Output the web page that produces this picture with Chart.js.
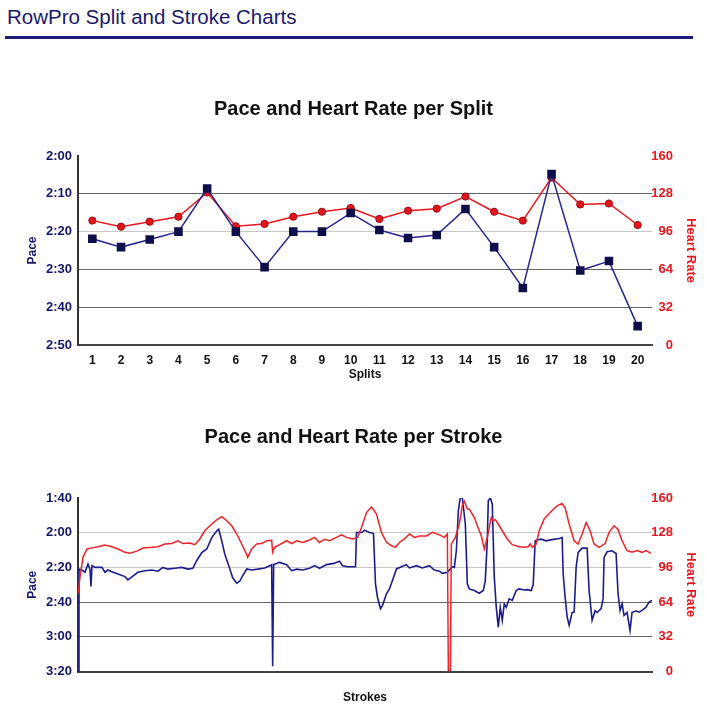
<!DOCTYPE html>
<html>
<head>
<meta charset="utf-8">
<title>RowPro Split and Stroke Charts</title>
<script src="https://cdn.jsdelivr.net/npm/chart.js@4/dist/chart.umd.min.js"></script>
<style>
    body { margin: 0; width: 707px; height: 720px; background: #fff; position: relative; overflow: hidden; }
    #hdr { position: absolute; left: 7px; top: 5px; font: 20.5px 'Liberation Sans', Arial, sans-serif; color: #19196c; }
    #rule { position: absolute; left: 5px; top: 36px; width: 688px; height: 3px; background: #1c1c7a; }
    .box { position: absolute; left: 0; width: 707px; }
</style>
</head>
<body>
<div id="hdr">RowPro Split and Stroke Charts</div>
<div id="rule"></div>
<div class="box" style="top:80px;height:310px"><canvas id="splitChart"></canvas></div>
<div class="box" style="top:415px;height:305px"><canvas id="strokeChart"></canvas></div>

<script>
// Split data (pace in seconds per 500m, heart rate in bpm)
const splits = ['1', '2', '3', '4', '5', '6', '7', '8', '9', '10', '11', '12', '13', '14', '15', '16', '17', '18', '19', '20'];
const splitPace = [141.9, 144.1, 142.1, 140, 128.6, 140, 149.4, 140, 140, 135.1, 139.6, 141.7, 140.9, 134, 144.1, 154.9, 124.8, 150.3, 147.8, 165];
const splitHr = [105.3, 100.2, 104.4, 108.6, 129.1, 100.5, 102.5, 108.6, 112.8, 116, 106.7, 113.7, 115.4, 125.7, 112.8, 105.3, 141.7, 119, 119.8, 101.6];

// Stroke data
const paceStrokes = [0, 1, 4, 7, 10, 12, 13, 14, 17, 24, 27, 30, 34, 40, 47, 50, 54, 60, 67, 74, 80, 85, 90, 97, 104, 110, 115, 119, 124, 129, 134, 139, 141, 144, 147, 151, 155, 159, 162, 165, 169, 174, 180, 187, 192, 194, 195, 196, 202, 209, 214, 219, 225, 232, 237, 242, 249, 256, 262, 265, 270, 278, 279, 284, 287, 292, 296, 298, 300, 303, 305, 309, 312, 315, 319, 324, 329, 332, 339, 345, 352, 357, 362, 365, 370, 375, 377, 379, 381, 383, 385, 388, 390, 392, 397, 402, 406, 408, 410, 411, 413, 415, 417, 419, 421, 423, 425, 427, 429, 432, 435, 439, 442, 447, 450, 454, 456, 458, 460, 464, 469, 475, 482, 485, 486, 488, 490, 492, 495, 497, 499, 501, 505, 510, 512, 514, 515, 518, 520, 524, 526, 527, 530, 535, 539, 541, 543, 545, 547, 550, 553, 555, 559, 562, 565, 569, 572, 575];
const paceSecs = [200, 141, 141.5, 142.8, 138, 141, 151, 139, 140, 140, 142.8, 141.5, 142.5, 143.8, 145.3, 147.2, 145.5, 142.8, 141.9, 141.5, 142.2, 140, 141, 140.5, 140, 141, 140.5, 136, 131.4, 129.4, 122.8, 118.9, 118, 124.7, 132.3, 139, 146, 149.1, 148, 144.7, 140.9, 141.5, 141, 140.3, 139, 138.5, 197, 138.4, 137.1, 138.4, 141.9, 141, 141.5, 140.5, 139, 140.5, 138.4, 137.7, 136.5, 139, 139.6, 139.6, 119.9, 119.9, 118.5, 119.9, 120.5, 149.5, 157.2, 163.8, 162, 155.2, 152.4, 147.6, 140.9, 139.6, 138.4, 140.3, 139, 140.3, 139, 141.5, 142.2, 143.4, 142.8, 139.6, 140, 130.4, 107.5, 99.4, 99.8, 115, 149.5, 152.4, 153.3, 154.9, 153.3, 147.6, 124.7, 101.7, 99.8, 103.6, 145.7, 162.9, 174.4, 163, 170.5, 161, 163, 158.1, 159, 153.3, 152.4, 153, 152.8, 153.3, 150, 124.7, 124.2, 123.7, 124.7, 124, 123.3, 122.8, 143.8, 157.2, 168.6, 173.4, 166, 165.8, 140, 131.4, 128.9, 128.9, 153.3, 164.8, 170.5, 165, 166, 163.8, 158, 134.2, 131, 130.4, 132, 155.2, 164.8, 161, 167.7, 166, 176.3, 166, 165, 165.8, 164.8, 162.9, 160, 159];
const hrStrokes = [0, 2, 5, 9, 14, 20, 27, 34, 40, 47, 52, 59, 65, 74, 80, 87, 94, 100, 105, 112, 117, 122, 127, 134, 140, 144, 149, 154, 159, 164, 168, 170, 174, 179, 184, 189, 194, 195, 197, 202, 209, 214, 219, 225, 232, 237, 242, 247, 252, 259, 264, 269, 275, 280, 284, 289, 294, 299, 304, 309, 314, 318, 322, 327, 332, 337, 342, 349, 355, 362, 367, 370, 371, 373, 374, 378, 382, 385, 387, 390, 392, 397, 400, 404, 407, 410, 414, 416, 418, 421, 425, 430, 435, 442, 447, 451, 453, 455, 459, 462, 467, 474, 480, 485, 488, 492, 497, 501, 505, 509, 513, 517, 522, 528, 532, 537, 541, 545, 550, 555, 560, 565, 569, 574];
const hrBpm = [71.7, 87, 105.3, 113, 114, 115.1, 116.7, 115, 113, 109.9, 109, 111, 113.9, 114.5, 115.1, 117.6, 118, 120.6, 118, 118.5, 117, 122.2, 129.8, 136, 140.6, 142.7, 139, 134.4, 126.8, 117.6, 109.9, 105.3, 113, 117.6, 118, 120.6, 121, 109.9, 114.5, 117, 120.6, 118, 120.6, 119, 121.3, 123.7, 119, 122, 120.6, 123.7, 126.1, 123.7, 122.2, 123.7, 132.8, 146.6, 151.8, 145.1, 128.3, 119.1, 116, 114.5, 119, 122.2, 126.8, 123.7, 125, 125, 128.3, 126, 123.7, 126.8, 1, 1, 117.6, 123.7, 136, 152.8, 157, 150, 149.7, 142, 134.4, 125.2, 113, 123.7, 142, 139, 140, 136, 129.8, 122.2, 117, 115.1, 114.5, 115.1, 117.6, 114.5, 117.6, 129.8, 140.6, 147.5, 152.8, 154.9, 151, 136, 120.6, 117.6, 126.8, 137.4, 129.8, 117.6, 114.5, 118, 128.3, 134.4, 131, 120.6, 111.5, 109.9, 111.5, 109.9, 111.5, 108.9];

const navy = '#16166c';
const paceLine = '#262690';
const red = '#e8161e';
const fontFamily = "'Liberation Sans', Arial, Helvetica, sans-serif";

const fmtPace = (v) => Math.floor(v / 60) + ':' + String(Math.round(v % 60)).padStart(2, '0');

function buildOptions(cfg) {
    return {
        responsive: true,
        maintainAspectRatio: false,
        animation: false,
        devicePixelRatio: 1,
        layout: { padding: 0 },
        plugins: {
            legend: { display: false },
            tooltip: { enabled: false },
            title: {
                display: true,
                text: cfg.title,
                color: '#111',
                font: { family: fontFamily, size: 20, weight: 'bold' },
                padding: cfg.titlePad
            }
        },
        scales: {
            x: cfg.x,
            y: {
                position: 'left',
                reverse: true,
                min: cfg.paceMin,
                max: cfg.paceMax,
                afterFit: (scale) => { scale.width = 78; },
                border: { display: true, color: '#333', width: 2 },
                grid: {
                    drawTicks: false,
                    lineWidth: 1,
                    color: (ctx) => cfg.gridColors[ctx.index] || '#777'
                },
                ticks: {
                    stepSize: cfg.paceStep,
                    padding: 6,
                    color: navy,
                    font: { family: fontFamily, size: 13, weight: 'bold' },
                    callback: (v) => fmtPace(v)
                },
                title: {
                    display: true,
                    text: 'Pace',
                    color: navy,
                    font: { family: fontFamily, size: 12, weight: 'bold' },
                    padding: { top: 25, bottom: 0 }
                }
            },
            // heart rate ticks, right aligned next to the plot
            y1: {
                position: 'right',
                weight: 0,
                min: 0,
                max: 160,
                afterFit: (scale) => { scale.width = 21; },
                border: { display: false },
                grid: { display: false, drawTicks: false },
                ticks: {
                    stepSize: 32,
                    padding: 0,
                    crossAlign: 'far',
                    color: red,
                    font: { family: fontFamily, size: 13, weight: 'bold' }
                }
            },
            // heart rate axis title only
            y2: {
                position: 'right',
                weight: 1,
                min: 0,
                max: 160,
                afterFit: (scale) => { scale.width = 34; },
                border: { display: false },
                grid: { display: false, drawTicks: false },
                ticks: { display: false },
                title: {
                    display: true,
                    text: 'Heart Rate',
                    color: red,
                    font: { family: fontFamily, size: 13, weight: 'bold' },
                    padding: { top: 9, bottom: 0 }
                }
            }
        }
    };
}

// Chart 1: per split
new Chart(document.getElementById('splitChart'), {
    type: 'line',
    data: {
        labels: splits,
        datasets: [{
            label: 'Pace',
            data: splitPace,
            yAxisID: 'y',
            borderColor: paceLine,
            borderWidth: 1.5,
            backgroundColor: '#0e0e4a',
            pointBackgroundColor: '#0e0e4a',
            pointBorderColor: '#0e0e4a',
            pointStyle: 'rect',
            pointRadius: 5,
            tension: 0
        }, {
            label: 'Heart Rate',
            data: splitHr,
            yAxisID: 'y1',
            borderColor: red,
            borderWidth: 1.5,
            backgroundColor: red,
            pointBackgroundColor: '#e3141c',
            pointBorderColor: '#9a0a10',
            pointBorderWidth: 1,
            pointRadius: 3.6,
            tension: 0
        }]
    },
    options: buildOptions({
        title: 'Pace and Heart Rate per Split',
        titlePad: { top: 17, bottom: 35 },
        paceMin: 120,
        paceMax: 170,
        paceStep: 10,
        gridColors: ['#c8c8c8', '#666', '#666', '#c8c8c8', '#666', 'rgba(0,0,0,0)'],
        x: {
            type: 'category',
            offset: true,
            afterFit: (scale) => { scale.height = 45; },
            border: { display: true, color: '#444', width: 2 },
            grid: { display: false, drawTicks: false },
            ticks: {
                padding: 8,
                color: '#111',
                maxRotation: 0,
                autoSkip: false,
                font: { family: fontFamily, size: 12, weight: 'bold' }
            },
            title: {
                display: true,
                text: 'Splits',
                color: '#111',
                font: { family: fontFamily, size: 12, weight: 'bold' },
                padding: { top: 0, bottom: 8 }
            }
        }
    })
});

// Chart 2: per stroke
const toPoints = (xs, ys) => xs.map((x, i) => ({ x: x, y: ys[i] }));

new Chart(document.getElementById('strokeChart'), {
    type: 'line',
    data: {
        datasets: [{
            label: 'Heart Rate',
            data: toPoints(hrStrokes, hrBpm),
            yAxisID: 'y1',
            borderColor: '#ee2228',
            borderWidth: 1.5,
            pointRadius: 0,
            tension: 0
        }, {
            label: 'Pace',
            data: toPoints(paceStrokes, paceSecs),
            yAxisID: 'y',
            borderColor: '#1c1c8c',
            borderWidth: 1.6,
            pointRadius: 0,
            tension: 0
        }]
    },
    options: buildOptions({
        title: 'Pace and Heart Rate per Stroke',
        titlePad: { top: 10, bottom: 49 },
        paceMin: 100,
        paceMax: 200,
        paceStep: 20,
        gridColors: ['#666', '#666', '#666', '#c8c8c8', '#c8c8c8', 'rgba(0,0,0,0)'],
        x: {
            type: 'linear',
            min: 0,
            max: 575,
            afterFit: (scale) => { scale.height = 48.5; },
            border: { display: true, color: '#444', width: 2 },
            grid: { display: false, drawTicks: false },
            ticks: { display: false },
            title: {
                display: true,
                text: 'Strokes',
                color: '#111',
                font: { family: fontFamily, size: 12, weight: 'bold' },
                padding: { top: 0, bottom: 15 }
            }
        }
    })
});
</script>
</body>
</html>
